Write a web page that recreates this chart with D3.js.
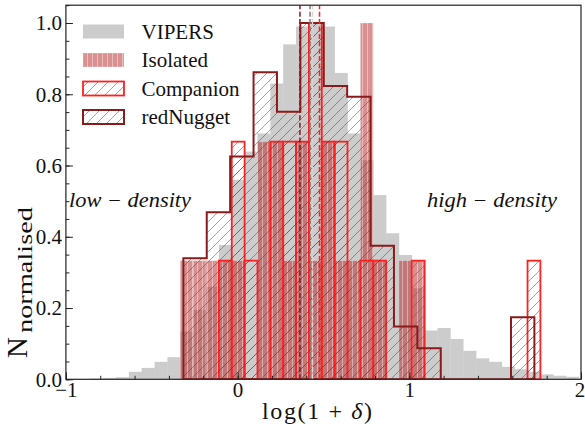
<!DOCTYPE html>
<html><head><meta charset="utf-8">
<script src="https://cdn.jsdelivr.net/npm/d3@7"></script>
<style>body{margin:0;background:#fff}svg{display:block}</style>
</head><body>
<svg id="chart" width="585" height="430"></svg>
<script>
// ---- data ----
const viperBinStart = -0.858, viperBinWidth = 0.0749;   // shared bins (VIPERS, Isolated, Companion)
const viperValues = [0.002,0.004,0.006,0.021,0.032,0.049,0.062,0.134,0.195,0.26,0.377,0.56,0.639,0.69,0.83,0.94,0.99,1.0,0.99,0.86,0.69,0.615,0.517,0.41,0.349,0.256,0.137,0.144,0.113,0.08,0.059,0.049,0.035,0.028,0.021,0.014,0.010,0.007];
const isolatedValues = [0,0,0,0,0,0,0,0.333,0.333,0.333,0.333,0.333,0,0.667,0.667,0.333,0.667,0.333,0.667,0.333,0.333,1.0,0.333,0,0.333,0.333,0,0,0,0,0,0,0,0,0,0,0,0];
const companionValues = [0,0,0,0,0,0,0,0,0,0,0.333,0.667,0.333,0,0.667,0.667,0.667,1.0,0.667,0.667,0,0.333,0.333,0,0,0.333,0,0,0,0,0,0,0,0,0.333,0,0,0];
const nuggetBinStart = -0.316, nuggetBinWidth = 0.1363;
const nuggetValues = [0.34,0.469,0.625,0.862,0.751,1.0,0.823,0.793,0.375,0.148,0.087,0,0,0,0.174];
const medianNames = ['redNugget','VIPERS','Isolated','Companion'];
const medianValues = [0.363,0.422,0.436,0.477];
const xTicks = [-1,0,1,2];
const yTicks = [0,0.2,0.4,0.6,0.8,1.0];
const legendLabels = ['VIPERS','Isolated','Companion','redNugget'];

// ---- layout ----
const L = 65.9, R = 581, T = 5.2, B = 379.3;
const x = d3.scaleLinear().domain([-1,2]).range([L,R]);
const y = d3.scaleLinear().domain([0,1.05]).range([B,T]);
const svg = d3.select('#chart');
const serif = '"Liberation Serif","DejaVu Serif",serif';
const C = {vipers:'#cccccc', iso:'#b22222', comp:'#ff2020', nug:'#8b1a1a'};

const defs = svg.append('defs');
defs.append('clipPath').attr('id','clip').append('rect').attr('x',L).attr('y',T).attr('width',R-L).attr('height',B-T);
function diagPattern(id,color,op){
  const p = defs.append('pattern').attr('id',id).attr('patternUnits','userSpaceOnUse').attr('width',10).attr('height',10);
  p.append('path').attr('d','M0,10 L10,0 M-2.5,2.5 L2.5,-2.5 M7.5,12.5 L12.5,7.5').attr('stroke',color).attr('stroke-opacity',op).attr('stroke-width',0.8);
}
diagPattern('hComp',C.comp,0.75);
diagPattern('hNug',C.nug,0.6);
const pv = defs.append('pattern').attr('id','hIso').attr('patternUnits','userSpaceOnUse').attr('width',5).attr('height',5);
pv.append('path').attr('d','M2.5,0 V5').attr('stroke','#fff').attr('stroke-opacity',0.4).attr('stroke-width',1);

const bins = (start,width,vals)=>vals.map((v,i)=>({x0:start+i*width,x1:start+(i+1)*width,v}));
const vBins = bins(viperBinStart,viperBinWidth,viperValues);
const iBins = bins(viperBinStart,viperBinWidth,isolatedValues).filter(d=>d.v>0);
const cBins = bins(viperBinStart,viperBinWidth,companionValues).filter(d=>d.v>0);
const nBins = bins(nuggetBinStart,nuggetBinWidth,nuggetValues);

const g = svg.append('g').attr('clip-path','url(#clip)');
// VIPERS
g.append('g').selectAll('rect').data(vBins).join('rect')
 .attr('x',d=>x(d.x0)).attr('width',d=>x(d.x1)-x(d.x0)+0.3)
 .attr('y',d=>y(d.v)).attr('height',d=>y(0)-y(d.v)).attr('fill',C.vipers);
// Isolated
const gi = g.append('g');
gi.selectAll('rect.f').data(iBins).join('rect').attr('class','f')
 .attr('x',d=>x(d.x0)).attr('width',d=>x(d.x1)-x(d.x0))
 .attr('y',d=>y(d.v)).attr('height',d=>y(0)-y(d.v)).attr('fill',C.iso).attr('fill-opacity',0.5);
gi.selectAll('rect.h').data(iBins).join('rect').attr('class','h')
 .attr('x',d=>x(d.x0)).attr('width',d=>x(d.x1)-x(d.x0))
 .attr('y',d=>y(d.v)).attr('height',d=>y(0)-y(d.v)).attr('fill','url(#hIso)')
 .attr('stroke','#fff').attr('stroke-opacity',0.3).attr('stroke-width',0.8);
// Companion
g.append('g').selectAll('rect').data(cBins).join('rect')
 .attr('x',d=>x(d.x0)).attr('width',d=>x(d.x1)-x(d.x0))
 .attr('y',d=>y(d.v)).attr('height',d=>y(0)-y(d.v))
 .attr('fill','url(#hComp)').attr('stroke',C.comp).attr('stroke-width',1.8);
// redNugget step
const pts = [[nBins[0].x0,0]];
nBins.forEach(d=>{pts.push([d.x0,d.v]);pts.push([d.x1,d.v]);});
pts.push([nBins[nBins.length-1].x1,0]);
const line = d3.line().x(d=>x(d[0])).y(d=>y(d[1]));
g.append('path').attr('d',line(pts)+'Z').attr('fill','url(#hNug)')
 .attr('stroke',C.nug).attr('stroke-width',2).attr('stroke-linejoin','miter');
// medians
const medColors = {redNugget:C.nug, VIPERS:'#7a7a7a', Isolated:'#e6d0d0', Companion:C.comp};
g.append('g').selectAll('line').data(medianValues).join('line')
 .attr('x1',d=>x(d)).attr('x2',d=>x(d)).attr('y1',y(0)).attr('y2',T)
 .attr('stroke',(d,i)=>medColors[medianNames[i]]).attr('stroke-width',1.5).attr('stroke-dasharray','5,2.4');

// axes
const fmtY = d3.format('.1f');
const ax = svg.append('g').attr('transform',`translate(0,${B})`)
 .call(d3.axisBottom(x).tickValues(xTicks).tickSizeInner(-7).tickSizeOuter(0).tickPadding(3).tickFormat(d3.format('d')));
const axm = svg.append('g').attr('transform',`translate(0,${B})`)
 .call(d3.axisBottom(x).tickValues(d3.range(-1,2.001,0.2)).tickSizeInner(-3.5).tickSizeOuter(0).tickFormat(''));
const ay = svg.append('g').attr('transform',`translate(${L},0)`)
 .call(d3.axisLeft(y).tickValues(yTicks).tickSizeInner(-7).tickSizeOuter(0).tickPadding(4).tickFormat(fmtY));
const aym = svg.append('g').attr('transform',`translate(${L},0)`)
 .call(d3.axisLeft(y).tickValues(d3.range(0,1.051,0.05)).tickSizeInner(-3.5).tickSizeOuter(0).tickFormat(''));
[ax,axm,ay,aym].forEach(a=>{a.select('.domain').remove();a.selectAll('line').attr('stroke','#222').attr('stroke-width',1);
 a.selectAll('text').attr('font-family',serif).attr('font-size',21).attr('fill','#111');});
ax.selectAll('.tick text').filter(d=>d===2).attr('dx',-1.5);
svg.append('rect').attr('x',L).attr('y',T).attr('width',R-L).attr('height',B-T)
 .attr('fill','none').attr('stroke','#222').attr('stroke-width',1.2);

// axis labels
svg.append('text').attr('x',317).attr('y',419).attr('text-anchor','middle')
 .attr('font-family',serif).attr('font-size',24).attr('fill','#111')
 .attr('textLength',110).attr('lengthAdjust','spacing')
 .html('log(1 + <tspan font-style="italic">δ</tspan>)');
svg.append('text').attr('transform','translate(27,358) rotate(-90)')
 .attr('font-family',serif).attr('font-size',29).attr('fill','#111').text('N');
svg.append('text').attr('transform','translate(32,333) rotate(-90)')
 .attr('font-family',serif).attr('font-size',20).attr('fill','#111')
 .attr('textLength',126).attr('lengthAdjust','spacingAndGlyphs').text('normalised');

// annotations
svg.append('text').attr('x',69).attr('y',207).attr('font-family',serif).attr('font-style','italic')
 .attr('font-size',20).attr('fill','#111').attr('textLength',122).attr('lengthAdjust','spacingAndGlyphs').text('low − density');
svg.append('text').attr('x',427).attr('y',207).attr('font-family',serif).attr('font-style','italic')
 .attr('font-size',20).attr('fill','#111').attr('textLength',130).attr('lengthAdjust','spacingAndGlyphs').text('high − density');

// legend
const lg = svg.append('g');
const rowY = [31.5,60,88.5,117];
legendLabels.forEach((name,i)=>{
  const yy = rowY[i];
  if(name==='VIPERS') lg.append('rect').attr('x',83).attr('y',yy-7).attr('width',41).attr('height',14).attr('fill',C.vipers);
  if(name==='Isolated'){
    lg.append('rect').attr('x',83).attr('y',yy-7).attr('width',41).attr('height',14).attr('fill',C.iso).attr('fill-opacity',0.5);
    lg.append('rect').attr('x',83).attr('y',yy-7).attr('width',41).attr('height',14).attr('fill','url(#hIso)').attr('stroke','#fff').attr('stroke-opacity',0.3);
  }
  if(name==='Companion') lg.append('rect').attr('x',83).attr('y',yy-7).attr('width',41).attr('height',14).attr('fill','url(#hComp)').attr('stroke',C.comp).attr('stroke-width',1.8);
  if(name==='redNugget') lg.append('rect').attr('x',83).attr('y',yy-7).attr('width',41).attr('height',14).attr('fill','url(#hNug)').attr('stroke',C.nug).attr('stroke-width',2);
  lg.append('text').attr('x',141.5).attr('y',yy+7).attr('font-family',serif).attr('font-size',21).attr('fill','#111').text(name);
});
</script>
</body></html>
